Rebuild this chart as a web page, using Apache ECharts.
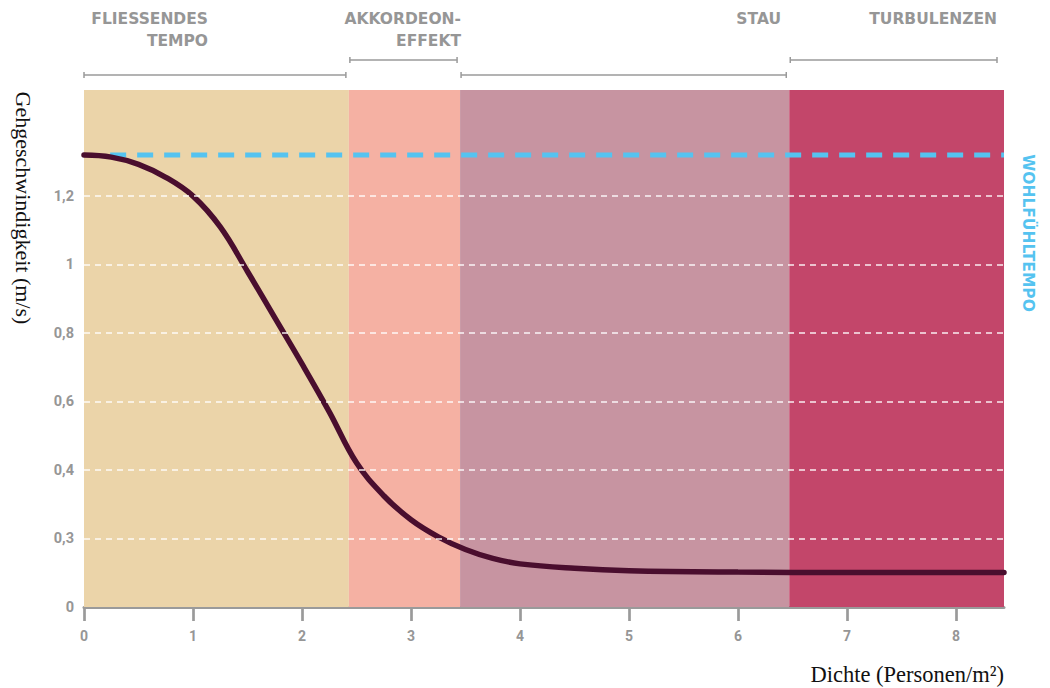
<!DOCTYPE html>
<html>
<head>
<meta charset="utf-8">
<script src="https://cdn.jsdelivr.net/npm/echarts@6/dist/echarts.min.js"></script>
<style>
  html, body { margin: 0; padding: 0; background: #ffffff; }
  #chart { width: 1050px; height: 688px; }
</style>
</head>
<body>
<div id="chart"></div>
<script>
// ---- data ----
const densityX = [0, 0.25, 0.5, 0.75, 1.0, 1.25, 1.5, 1.75, 2.0, 2.25, 2.5, 2.75, 3.0, 3.25, 3.5, 3.75, 4.0, 4.5, 5.0, 6.0, 7.0, 8.44];
const speedY   = [1.32, 1.314, 1.293, 1.255, 1.20, 1.11, 0.98, 0.845, 0.71, 0.57, 0.421, 0.325, 0.255, 0.205, 0.168, 0.142, 0.126, 0.113, 0.106, 0.102, 0.101, 0.101];
const comfortSpeed = 1.32;
const comfortFrom = 0.24;
const zoneBounds = [0, 2.43, 3.45, 6.47, 8.44];
const zoneNames = ['FLIESSENDES\nTEMPO', 'AKKORDEON-\nEFFEKT', 'STAU', 'TURBULENZEN'];
const xTickValues = [0, 1, 2, 3, 4, 5, 6, 7, 8];
const yTickValues = [0, 0.2, 0.4, 0.6, 0.8, 1, 1.2];
const yTickLabels = ['0', '0,3', '0,4', '0,6', '0,8', '1', '1,2'];
const comfortLabel = 'WOHLFÜHLTEMPO';
const yTitle = 'Gehgeschwindigkeit (m/s)';
const xTitle = 'Dichte (Personen/m²)';

// ---- styles ----
const zoneColors = ['#EBD4A9', '#F5B1A3', '#C794A1', '#C3466A'];
const headerAnchors = [208, 461, 781, 997];
const bracketY = [75, 60, 75, 60];
const grey = '#969696';

const chart = echarts.init(document.getElementById('chart'), null, { renderer: 'svg' });

const curveData = densityX.map((x, i) => [x, speedY[i]]);

const option = {
  animation: false,
  backgroundColor: '#ffffff',
  grid: { left: 84, right: 46, top: 90, bottom: 81, containLabel: false },
  xAxis: {
    type: 'value', min: 0, max: zoneBounds[zoneBounds.length - 1], interval: 1,
    axisLine: { show: true, lineStyle: { color: '#9a9a9a', width: 3 } },
    axisTick: { show: true, customValues: xTickValues, length: 14, lineStyle: { color: '#9a9a9a', width: 2.7 } },
    axisLabel: {
      customValues: xTickValues, margin: 22,
      color: grey, fontFamily: 'Roboto', fontWeight: 'bold', fontSize: 14
    },
    splitLine: { show: false }
  },
  yAxis: {
    type: 'value', min: 0, max: 1.51, interval: 0.2,
    axisLine: { show: false }, axisTick: { show: false },
    axisLabel: {
      customValues: yTickValues, margin: 10,
      color: grey, fontFamily: 'Roboto', fontWeight: 'bold', fontSize: 14.5,
      formatter: function (v) {
        const i = yTickValues.findIndex(t => Math.abs(t - v) < 1e-6);
        return i >= 0 ? yTickLabels[i] : '';
      }
    },
    splitLine: { show: false }
  },
  series: [
    {
      name: 'zones', type: 'line', data: [], z: 1, silent: true,
      markArea: {
        silent: true,
        data: zoneNames.map((n, i) => [
          { xAxis: zoneBounds[i], itemStyle: { color: zoneColors[i] } },
          { xAxis: zoneBounds[i + 1] }
        ])
      }
    },
    {
      name: 'grid', type: 'line', data: [], z: 2, silent: true,
      markLine: {
        silent: true, symbol: 'none', label: { show: false },
        lineStyle: { color: 'rgba(255,255,255,0.9)', type: [6, 5], width: 1.5 },
        data: yTickValues.filter(v => v > 0).map(v => ({ yAxis: v }))
      }
    },
    {
      name: 'comfort', type: 'line', z: 3, silent: true, showSymbol: false,
      data: [[comfortFrom, comfortSpeed], [zoneBounds[zoneBounds.length - 1], comfortSpeed]],
      lineStyle: { color: '#55C3F0', width: 5, type: [16, 11] }
    },
    {
      name: 'speed', type: 'line', z: 4, silent: true, showSymbol: false,
      smooth: 0.4,
      data: curveData,
      lineStyle: { color: '#4A0E2E', width: 5.5, cap: 'round' }
    }
  ]
};
chart.setOption(option);

// ---- annotations (brackets & texts) ----
const graphics = [];
zoneNames.forEach((name, i) => {
  const p0 = chart.convertToPixel({ gridIndex: 0 }, [zoneBounds[i], 0]);
  const p1 = chart.convertToPixel({ gridIndex: 0 }, [zoneBounds[i + 1], 0]);
  const xs = p0[0] + (i > 0 ? 1 : 0);
  const xe = p1[0] - (i === zoneNames.length - 1 ? 7 : 3);
  const y = bracketY[i];
  const ls = { stroke: '#9a9a9a', lineWidth: 1.5 };
  graphics.push({ type: 'line', silent: true, shape: { x1: xs, y1: y, x2: xe, y2: y }, style: ls });
  graphics.push({ type: 'line', silent: true, shape: { x1: xs, y1: y - 3, x2: xs, y2: y + 3 }, style: ls });
  graphics.push({ type: 'line', silent: true, shape: { x1: xe, y1: y - 3, x2: xe, y2: y + 3 }, style: ls });
  graphics.push({
    type: 'text', silent: true,
    style: {
      text: name, x: headerAnchors[i], y: 8,
      align: 'right', verticalAlign: 'top', textAlign: 'right', textVerticalAlign: 'top',
      lineHeight: 22, fill: grey,
      font: 'bold 15.5px "DejaVu Sans"'
    }
  });
});
const pc = chart.convertToPixel({ gridIndex: 0 }, [zoneBounds[zoneBounds.length - 1], comfortSpeed]);
graphics.push({
  type: 'text', silent: true, x: pc[0] + 24, y: 233, rotation: -Math.PI / 2,
  style: {
    text: comfortLabel, x: 0, y: 0,
    align: 'center', verticalAlign: 'middle', textAlign: 'center', textVerticalAlign: 'middle',
    fill: '#55C3F0', font: 'bold 15.5px "DejaVu Sans"'
  }
});
graphics.push({
  type: 'text', silent: true, x: 23, y: 208, rotation: -Math.PI / 2,
  style: {
    text: yTitle, x: 0, y: 0,
    align: 'center', verticalAlign: 'middle', textAlign: 'center', textVerticalAlign: 'middle',
    fill: '#111111', font: '22px "Liberation Serif"'
  }
});
graphics.push({
  type: 'text', silent: true, x: 1004, y: 674,
  style: {
    text: xTitle, x: 0, y: 0,
    align: 'right', verticalAlign: 'middle', textAlign: 'right', textVerticalAlign: 'middle',
    fill: '#111111', font: '22.5px "Liberation Serif"'
  }
});
chart.setOption({ graphic: { elements: graphics } });
</script>
</body>
</html>
